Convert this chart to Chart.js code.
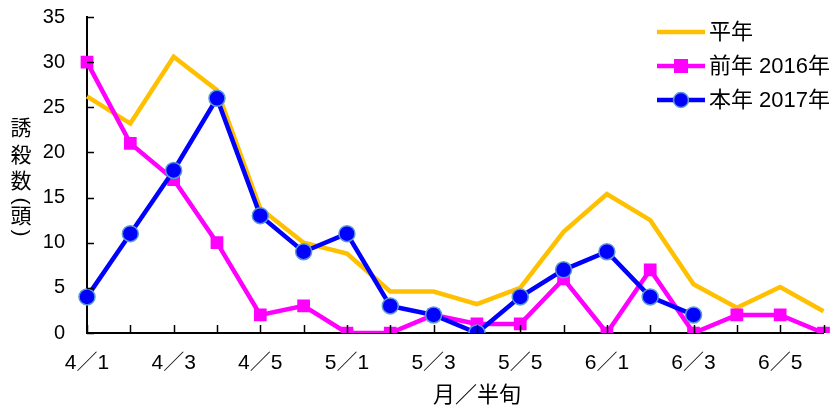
<!DOCTYPE html>
<html>
<head>
<meta charset="utf-8">
<script src="https://cdn.jsdelivr.net/npm/chart.js@4.4.1/dist/chart.umd.min.js"></script>
<style>
  html, body { margin: 0; padding: 0; background: #fff; }
  #wrap { width: 833px; height: 412px; }
</style>
</head>
<body>
<div id="wrap"><canvas id="myChart"></canvas></div>
<script>
// 半旬ごとの誘殺数
const categories = ["4／1", "4／2", "4／3", "4／4", "4／5", "4／6",
  "5／1", "5／2", "5／3", "5／4", "5／5", "5／6",
  "6／1", "6／2", "6／3", "6／4", "6／5", "6／6"];

const heinen = [26.2, 23.2, 30.6, 26.9, 13.8, 10, 8.8, 4.6, 4.6, 3.2, 5, 11.2, 15.4, 12.5, 5.4, 2.8, 5.1, 2.4];
const zennen2016 = [30, 21, 17, 10, 2, 3, 0, 0, 2, 1, 1, 6, 0, 7, 0, 2, 2, 0];
const honnen2017 = [4, 11, 18, 26, 13, 9, 11, 3, 2, 0, 4, 7, 9, 4, 2, null, null, null];

const yTicks = [0, 5, 10, 15, 20, 25, 30, 35];

const FONT = "'Liberation Sans', 'Noto Sans CJK JP', sans-serif";

// inner tick marks + axis titles + legend
const decorations = {
  id: "decorations",
  afterDraw(chart) {
    const ctx = chart.ctx;
    const x = chart.scales.x;
    const y = chart.scales.y;
    const area = chart.chartArea;
    ctx.save();
    ctx.strokeStyle = "#000";
    ctx.lineWidth = 1.5;
    ctx.beginPath();
    categories.forEach((c, i) => {
      const px = Math.round(x.getPixelForValue(i)) + 0.5;
      ctx.moveTo(px, area.bottom);
      ctx.lineTo(px, area.bottom - 8);
    });
    yTicks.forEach(v => {
      const py = Math.round(y.getPixelForValue(v)) + 0.5;
      ctx.moveTo(area.left, py);
      ctx.lineTo(area.left + 7, py);
    });
    ctx.stroke();

    // x title
    ctx.fillStyle = "#000";
    ctx.font = "22px " + FONT;
    ctx.textAlign = "center";
    ctx.textBaseline = "middle";
    ctx.fillText("月／半旬", 477, 396);

    // y title, vertical
    ctx.font = "21px " + FONT;
    const chars = ["誘", "殺", "数", "(", "頭", ")"];
    const ys = [129, 156, 182, 201, 217, 233];
    chars.forEach((ch, i) => {
      ctx.save();
      ctx.translate(21, ys[i]);
      if (ch === "(" || ch === ")") ctx.rotate(Math.PI / 2);
      ctx.fillText(ch, 0, 0);
      ctx.restore();
    });

    // legend
    ctx.textAlign = "left";
    chart.data.datasets.forEach((ds, i) => {
      const ly = 32 + i * 34;
      ctx.strokeStyle = ds.borderColor;
      ctx.lineWidth = ds.borderWidth;
      ctx.beginPath();
      ctx.moveTo(657, ly);
      ctx.lineTo(705, ly);
      ctx.stroke();
      if (ds.pointStyle === "rect") {
        ctx.fillStyle = ds.pointBackgroundColor;
        ctx.fillRect(674, ly - 7, 14, 14);
      } else if (ds.pointStyle === "circle") {
        ctx.fillStyle = ds.pointBackgroundColor;
        ctx.strokeStyle = ds.pointBorderColor;
        ctx.lineWidth = ds.pointBorderWidth;
        ctx.beginPath();
        ctx.arc(681, ly, 7.5, 0, Math.PI * 2);
        ctx.fill();
        ctx.stroke();
      }
      ctx.fillStyle = "#000";
      ctx.font = "22px " + FONT;
      ctx.fillText(ds.label, 709, ly + 1);
    });
    ctx.restore();
  }
};

new Chart(document.getElementById("myChart"), {
  type: "line",
  data: {
    labels: categories,
    datasets: [
      {
        label: "平年",
        data: heinen,
        borderColor: "#FFC000",
        borderWidth: 4.5,
        pointRadius: 0,
        pointStyle: false,
        tension: 0,
        order: 3
      },
      {
        label: "前年 2016年",
        data: zennen2016,
        borderColor: "#FF00FF",
        borderWidth: 4.5,
        pointStyle: "rect",
        pointRadius: 9,
        pointBackgroundColor: "#FF00FF",
        pointBorderColor: "#FF00FF",
        pointBorderWidth: 0,
        tension: 0,
        order: 2
      },
      {
        label: "本年 2017年",
        data: honnen2017,
        borderColor: "#0000FF",
        borderWidth: 4.5,
        pointStyle: "circle",
        pointRadius: 8,
        pointBackgroundColor: "#0000FF",
        pointBorderColor: "#5B9BD5",
        pointBorderWidth: 1.5,
        tension: 0,
        spanGaps: false,
        order: 1
      }
    ]
  },
  options: {
    responsive: true,
    maintainAspectRatio: false,
    animation: false,
    layout: { padding: { top: 17, right: 1, left: 0, bottom: 0 } },
    plugins: {
      legend: { display: false },
      tooltip: { enabled: false }
    },
    scales: {
      x: {
        grid: { display: false },
        border: { display: true, color: "#000", width: 2 },
        ticks: {
          autoSkip: false,
          maxRotation: 0,
          color: "#000",
          font: { family: FONT, size: 21 },
          padding: 10,
          callback: function (v, i) { return i % 2 === 0 ? categories[i] : ""; }
        },
        afterFit(scale) {
          scale.height = 79;
          scale.paddingLeft = 0;
          scale.paddingRight = 0;
        }
      },
      y: {
        min: 0,
        max: 35,
        grid: { display: false, drawTicks: false },
        border: { display: true, color: "#000", width: 2 },
        ticks: {
          stepSize: 5,
          color: "#000",
          font: { family: FONT, size: 20 },
          padding: 22,
          callback: v => String(v)
        },
        afterFit(scale) {
          scale.width = 87;
          scale.paddingTop = 0;
          scale.paddingBottom = 0;
        }
      }
    }
  },
  plugins: [decorations]
});
</script>
</body>
</html>
